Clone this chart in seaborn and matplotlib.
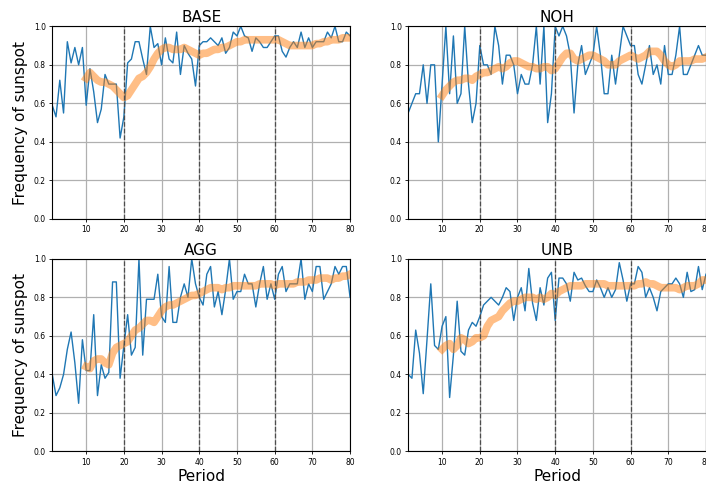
import numpy as np
import pandas as pd
import matplotlib
matplotlib.use('Agg')
import matplotlib.pyplot as plt
import seaborn as sns

# periods
periods = list(range(1, 81))
avg_periods = list(range(10, 81))
phase_breaks = [20, 40, 60]
treatments = ['BASE', 'NOH', 'AGG', 'UNB']

# frequency of sunspot per period
base_freq = [0.59, 0.53, 0.72, 0.55, 0.92, 0.81, 0.89, 0.80, 0.89, 0.59,
             0.78, 0.66, 0.50, 0.57, 0.75, 0.70, 0.70, 0.70, 0.42, 0.53,
             0.81, 0.83, 0.92, 0.92, 0.83, 0.75, 1.00, 0.89, 0.91, 0.80,
             0.94, 0.83, 0.81, 0.97, 0.75, 0.90, 0.86, 0.83, 0.69, 0.90,
             0.92, 0.92, 0.94, 0.92, 0.90, 0.94, 0.86, 0.89, 0.97, 0.95,
             1.00, 0.95, 0.94, 0.87, 0.94, 0.92, 0.89, 0.89, 0.92, 0.95,
             0.95, 0.87, 0.84, 0.89, 0.92, 0.89, 0.97, 0.89, 0.94, 0.89,
             0.92, 0.92, 0.92, 0.97, 0.94, 1.00, 0.92, 0.92, 0.97, 0.95]
noh_freq = [0.55, 0.60, 0.65, 0.65, 0.80, 0.60, 0.80, 0.80, 0.40, 0.70,
            1.00, 0.65, 0.95, 0.60, 0.65, 1.00, 0.70, 0.50, 0.60, 0.90,
            0.80, 0.80, 0.75, 1.00, 0.90, 0.70, 0.85, 0.85, 0.80, 0.65,
            0.75, 0.70, 0.70, 0.80, 1.00, 0.70, 1.00, 0.50, 0.65, 1.00,
            0.95, 1.00, 0.95, 0.85, 0.55, 0.80, 0.90, 0.75, 0.80, 0.85,
            1.00, 0.85, 0.65, 0.65, 0.85, 0.70, 0.85, 1.00, 0.95, 0.90,
            0.90, 0.75, 0.70, 0.80, 0.90, 0.75, 0.80, 0.70, 0.90, 0.75,
            0.75, 0.85, 1.00, 0.75, 0.75, 0.80, 0.85, 0.90, 0.85, 0.85]
agg_freq = [0.40, 0.29, 0.33, 0.40, 0.53, 0.62, 0.46, 0.25, 0.58, 0.42,
            0.42, 0.71, 0.29, 0.45, 0.38, 0.41, 0.88, 0.88, 0.38, 0.55,
            0.71, 0.50, 0.54, 1.00, 0.50, 0.79, 0.79, 0.79, 0.92, 0.70,
            0.67, 0.96, 0.67, 0.67, 0.80, 0.87, 0.80, 1.00, 0.87, 0.80,
            0.76, 0.92, 0.96, 0.75, 0.83, 0.71, 0.84, 1.00, 0.79, 0.83,
            0.83, 0.92, 0.87, 0.87, 0.75, 0.87, 0.96, 0.79, 0.87, 0.79,
            0.92, 0.96, 0.83, 0.87, 0.87, 0.87, 1.00, 0.79, 0.87, 0.83,
            0.96, 0.96, 0.79, 0.83, 0.87, 0.96, 0.92, 0.96, 0.96, 0.80]
unb_freq = [0.40, 0.38, 0.63, 0.51, 0.30, 0.58, 0.87, 0.55, 0.53, 0.65,
            0.70, 0.28, 0.50, 0.78, 0.52, 0.50, 0.63, 0.67, 0.65, 0.70,
            0.76, 0.78, 0.80, 0.78, 0.76, 0.80, 0.85, 0.83, 0.68, 0.80,
            0.85, 0.73, 0.95, 0.77, 0.68, 0.85, 0.76, 0.90, 0.93, 0.68,
            0.90, 0.90, 0.87, 0.78, 0.93, 0.89, 0.90, 0.86, 0.83, 0.83,
            0.89, 0.85, 0.80, 0.85, 0.80, 0.84, 0.98, 0.89, 0.78, 0.87,
            0.87, 0.96, 0.93, 0.80, 0.85, 0.80, 0.73, 0.83, 0.85, 0.87,
            0.87, 0.90, 0.87, 0.80, 0.93, 0.83, 0.84, 0.96, 0.84, 0.92]

# moving average, periods 10-80
base_avg = [0.73, 0.76, 0.74, 0.72, 0.71, 0.71, 0.70, 0.69, 0.67, 0.65,
            0.63, 0.64, 0.67, 0.70, 0.73, 0.74, 0.76, 0.79, 0.83, 0.86,
            0.88, 0.89, 0.89, 0.88, 0.88, 0.88, 0.89, 0.88, 0.87, 0.86,
            0.85, 0.86, 0.86, 0.87, 0.88, 0.88, 0.89, 0.89, 0.90, 0.91,
            0.92, 0.92, 0.93, 0.93, 0.93, 0.93, 0.93, 0.93, 0.93, 0.93,
            0.93, 0.93, 0.92, 0.91, 0.90, 0.90, 0.90, 0.90, 0.90, 0.90,
            0.90, 0.91, 0.91, 0.92, 0.92, 0.93, 0.93, 0.93, 0.94, 0.94,
            0.94]
noh_avg = [0.64, 0.67, 0.69, 0.71, 0.72, 0.72, 0.73, 0.73, 0.72, 0.74,
           0.75, 0.76, 0.76, 0.77, 0.78, 0.79, 0.78, 0.79, 0.81, 0.82,
           0.82, 0.81, 0.80, 0.79, 0.79, 0.78, 0.78, 0.79, 0.79, 0.77,
           0.78, 0.81, 0.84, 0.86, 0.86, 0.83, 0.82, 0.83, 0.84, 0.85,
           0.85, 0.84, 0.83, 0.82, 0.80, 0.80, 0.80, 0.82, 0.83, 0.84,
           0.85, 0.84, 0.83, 0.84, 0.85, 0.87, 0.87, 0.87, 0.85, 0.82,
           0.80, 0.79, 0.80, 0.82, 0.82, 0.82, 0.82, 0.83, 0.83, 0.83,
           0.84]
agg_avg = [0.44, 0.43, 0.47, 0.48, 0.48, 0.46, 0.45, 0.51, 0.54, 0.55,
           0.56, 0.57, 0.60, 0.63, 0.64, 0.66, 0.68, 0.68, 0.67, 0.70,
           0.73, 0.75, 0.76, 0.76, 0.77, 0.78, 0.79, 0.80, 0.81, 0.81,
           0.82, 0.83, 0.84, 0.85, 0.85, 0.85, 0.84, 0.85, 0.85, 0.86,
           0.86, 0.86, 0.86, 0.86, 0.86, 0.86, 0.87, 0.87, 0.87, 0.87,
           0.86, 0.87, 0.87, 0.87, 0.87, 0.87, 0.88, 0.88, 0.88, 0.89,
           0.89, 0.89, 0.90, 0.90, 0.90, 0.89, 0.90, 0.90, 0.91, 0.91,
           0.92]
unb_avg = [0.53, 0.55, 0.56, 0.53, 0.55, 0.59, 0.58, 0.56, 0.57, 0.59,
           0.59, 0.60, 0.65, 0.68, 0.69, 0.70, 0.73, 0.75, 0.77, 0.78,
           0.78, 0.79, 0.80, 0.80, 0.80, 0.79, 0.80, 0.79, 0.80, 0.82,
           0.81, 0.83, 0.84, 0.85, 0.86, 0.86, 0.86, 0.86, 0.87, 0.87,
           0.87, 0.87, 0.87, 0.87, 0.86, 0.86, 0.86, 0.86, 0.86, 0.86,
           0.86, 0.86, 0.87, 0.87, 0.88, 0.87, 0.87, 0.86, 0.85, 0.85,
           0.85, 0.85, 0.85, 0.84, 0.85, 0.86, 0.86, 0.86, 0.87, 0.89,
           0.89]

freqs = [base_freq, noh_freq, agg_freq, unb_freq]
avgs = [base_avg, noh_avg, agg_avg, unb_avg]

fig, axes = plt.subplots(2, 2, figsize=(7.06, 4.87), dpi=100)
plt.subplots_adjust(left=0.074, right=1.0, bottom=0.073, top=0.946,
                    wspace=0.195, hspace=0.207)

for ax, name, freq, avg in zip(axes.flat, treatments, freqs, avgs):
    df = pd.DataFrame({'Period': periods, 'freq': freq})
    df_avg = pd.DataFrame({'Period': avg_periods, 'avg': avg})
    sns.lineplot(data=df, x='Period', y='freq', ax=ax, color='C0', lw=1)
    sns.lineplot(data=df_avg, x='Period', y='avg', ax=ax, color='C1',
                 lw=5.5, alpha=0.5)
    for p in phase_breaks:
        ax.axvline(p, color='0.3', ls='--', lw=0.9)
    ax.set_xlim(1, 80)
    ax.set_ylim(0, 1)
    ax.set_xticks(range(10, 81, 10))
    ax.set_yticks([0.0, 0.2, 0.4, 0.6, 0.8, 1.0])
    ax.grid(True, color='#b0b0b0', lw=0.9)
    ax.set_axisbelow(True)
    ax.tick_params(labelsize=5.5, length=2.5, width=0.6, pad=2)
    ax.set_title(name, fontsize=11, pad=3)
    ax.set_xlabel('')
    ax.set_ylabel('')

for ax in axes[:, 0]:
    ax.set_ylabel('Frequency of sunspot', fontsize=11)
for ax in axes[1, :]:
    ax.set_xlabel('Period', fontsize=11, labelpad=2)

plt.savefig('out.png', dpi=100)
